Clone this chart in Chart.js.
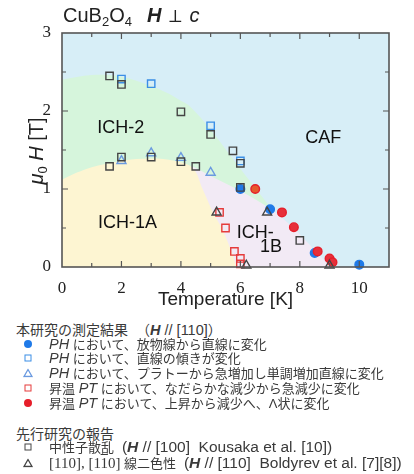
<!DOCTYPE html>
<html lang="ja">
<head>
<meta charset="utf-8">
<title>CuB2O4 H⊥c phase diagram</title>
<script src="https://cdn.jsdelivr.net/npm/chart.js@4.4.1/dist/chart.umd.min.js"></script>
<style>
    html, body { margin: 0; padding: 0; background: #fff; }
    #page { position: relative; width: 414px; height: 474px; overflow: hidden;
            font-family: "Liberation Sans", Arial, sans-serif; color: #222; }
    #plot { position: absolute; left: 0; top: 0; }
    .title { position: absolute; top: 3px; font-size: 20px; line-height: 24px; white-space: nowrap; }
    .title sub { font-size: 13px; line-height: 0; vertical-align: -4px; }
    .ytitle { position: absolute; left: 36px; top: 151px; font-size: 20px; line-height: 24px;
              white-space: nowrap; transform: translate(-50%, -50%) rotate(-90deg); }
    .ytitle sub { font-size: 13px; line-height: 0; vertical-align: -4px; }
    .row { position: absolute; left: 16px; white-space: nowrap; line-height: 16px; height: 16px;
           font-family: "Liberation Sans", "Noto Sans CJK JP", sans-serif; font-size: 13px; color: #3a3a3a; }
    .head { font-size: 14px; }
    .item { left: 49px; }
    .lt { font-size: 14.5px; }
    .ref { font-size: 15.5px; }
    .mk { position: absolute; left: 28px; transform: translate(-50%, -50%); box-sizing: border-box; }
    .dot { width: 8px; height: 8px; border-radius: 50%; }
    .sq { width: 7px; height: 7px; border: 1.5px solid; }
    .serif { font-family: "Liberation Serif", serif; font-size: 15px; }
    .ov { text-decoration: overline; }
</style>
</head>
<body>
<div id="page">
    <canvas id="plot" width="414" height="320"></canvas>

    <div class="title" style="left:63px">CuB<sub>2</sub>O<sub>4</sub></div>
    <div class="title" style="left:147px"><b><i>H</i></b> ⊥ <i>c</i></div>
    <div class="ytitle"><i>μ</i><sub>0</sub> <i>H</i> [T]</div>

    <!-- legend -->
    <div class="row head" style="top:322px">本研究の測定結果</div>
    <div class="row head" style="top:322px;left:136px">（<span class="lt"><b><i>H</i></b> // [110]</span>）</div>

    <span class="mk dot" style="top:344px;background:#1f7ae8"></span>
    <div class="row item" style="top:336px"><i class="lt">PH</i> において、放物線から直線に変化</div>

    <span class="mk sq" style="top:358px;border-color:#3a8ee6"></span>
    <div class="row item" style="top:350px"><i class="lt">PH</i> において、直線の傾きが変化</div>

    <svg class="mk" style="top:373px" width="10" height="9"><polygon points="5,1 9,8 1,8" fill="none" stroke="#6b9ae0" stroke-width="1.3"/></svg>
    <div class="row item" style="top:365px"><i class="lt">PH</i> において、プラトーから急増加し単調増加直線に変化</div>

    <span class="mk sq" style="top:388px;border-color:#e53b3b"></span>
    <div class="row item" style="top:380px">昇温 <i class="lt">PT</i> において、なだらかな減少から急減少に変化</div>

    <span class="mk dot" style="top:403px;background:#e61e2a"></span>
    <div class="row item" style="top:395px">昇温 <i class="lt">PT</i> において、上昇から減少へ、Λ状に変化</div>

    <div class="row head" style="top:426px">先行研究の報告</div>

    <span class="mk sq" style="top:447px;border-color:#444"></span>
    <div class="row item" style="top:439px">中性子散乱 <span class="ref">&nbsp;(<b><i>H</i></b> // [100]&nbsp; Kousaka et al. [10])</span></div>

    <svg class="mk" style="top:463px" width="10" height="9"><polygon points="5,1 9,8 1,8" fill="none" stroke="#444" stroke-width="1.3"/></svg>
    <div class="row item" style="top:455px"><span class="serif">[110], [1<span class="ov">1</span>0]</span> 線二色性 <span class="ref">&nbsp;(<b><i>H</i></b> // [110]&nbsp; Boldyrev et al. [7][8])</span></div>
</div>

<script>
(function() {
    'use strict';

    // phase boundaries, [T (K), mu0H (T)]
    const ich2Edge = [[0, 2.40], [1, 2.46], [2, 2.44], [3, 2.32], [3.6, 2.22], [4.0, 2.13],
                      [4.3, 2.06], [5.0, 1.76], [6.0, 1.26], [7.1, 0.72]];
    const ich1bEdge = [[4.4, 1.29], [7.1, 0.72], [9.05, 0]];
    const ich1aEdge = [[0, 1.12], [0.5, 1.21], [1, 1.28], [2, 1.36], [3, 1.39], [3.8, 1.36],
                       [4.4, 1.27], [4.74, 0.99], [5.08, 0.70], [5.37, 0.50], [5.7, 0.20], [5.87, 0]];

    // this work (H // [110])
    const phParabola = [[6.0, 1.00], [7.0, 0.74], [8.5, 0.18], [10.0, 0.03]];
    const phSlope = [[2.0, 2.41], [3.0, 2.35], [5.0, 1.81], [6.0, 1.36]];
    const phPlateau = [[2.0, 1.36], [3.0, 1.46], [4.0, 1.40], [5.0, 1.21]];
    const ptDecrease = [[5.3, 0.70], [5.5, 0.50], [5.8, 0.20], [6.0, 0.11], [6.0, 0.04]];
    const ptLambda = [[6.5, 1.00], [7.4, 0.70], [7.8, 0.51], [8.6, 0.20], [9.0, 0.11], [9.1, 0.06]];

    // earlier reports
    const neutron = [[1.6, 2.45], [2.0, 2.34], [4.0, 1.99], [5.0, 1.70], [5.75, 1.49], [6.0, 1.33],
                     [1.6, 1.29], [2.0, 1.41], [3.0, 1.41], [4.0, 1.35], [4.5, 1.29], [6.0, 1.02],
                     [8.0, 0.34]];
    const dichroism = [[5.2, 0.70], [6.9, 0.70], [6.2, 0.02], [9.0, 0.02]];

    // phase names
    const regionLabels = [
        { text: 'ICH-2', t: 1.98, h: 1.78 },
        { text: 'ICH-1A', t: 2.2, h: 0.56 },
        { text: 'CAF', t: 8.79, h: 1.65 },
        { text: 'ICH-', t: 6.5, h: 0.43 },
        { text: '1B', t: 7.03, h: 0.25 }
    ];

    const toXY = function(arr) {
        return arr.map(function(p) { return { x: p[0], y: p[1] }; });
    };

    function region(data, color, order) {
        return {
            data: toXY(data),
            showLine: true,
            fill: 'origin',
            backgroundColor: color,
            borderColor: 'transparent',
            borderWidth: 0,
            pointRadius: 0,
            tension: 0.35,
            order: order
        };
    }

    function markers(data, style, stroke, fillColor, radius, order) {
        return {
            data: toXY(data),
            showLine: false,
            pointStyle: style,
            pointRadius: radius,
            pointBorderColor: stroke,
            pointBackgroundColor: fillColor,
            pointBorderWidth: 1.4,
            clip: false,
            order: order
        };
    }

    // CAF background
    const backgroundPlugin = {
        id: 'cafBackground',
        beforeDatasetsDraw: function(chart) {
            const a = chart.chartArea;
            const ctx = chart.ctx;
            ctx.save();
            ctx.fillStyle = '#d7eef7';
            ctx.fillRect(a.left, a.top, a.right - a.left, a.bottom - a.top);
            ctx.restore();
        }
    };

    // phase names, frame and inward ticks on all sides
    const framePlugin = {
        id: 'frame',
        afterDatasetsDraw: function(chart) {
            const ctx = chart.ctx;
            const a = chart.chartArea;
            const x = chart.scales.x;
            const y = chart.scales.y;
            ctx.save();
            ctx.fillStyle = '#111';
            ctx.font = '18px "Liberation Sans", Arial, sans-serif';
            ctx.textAlign = 'center';
            ctx.textBaseline = 'middle';
            regionLabels.forEach(function(l) {
                ctx.fillText(l.text, x.getPixelForValue(l.t), y.getPixelForValue(l.h));
            });

            ctx.strokeStyle = '#555';
            ctx.lineWidth = 1.2;
            ctx.beginPath();
            for (let t = x.min + 1; t < x.max; t++) {
                const px = x.getPixelForValue(t);
                const len = t % 2 ? 4 : 6;
                ctx.moveTo(px, a.bottom); ctx.lineTo(px, a.bottom - len);
                ctx.moveTo(px, a.top); ctx.lineTo(px, a.top + len);
            }
            for (let v = y.min + 0.5; v < y.max; v += 0.5) {
                const py = y.getPixelForValue(v);
                const len = v % 1 ? 4 : 6;
                ctx.moveTo(a.left, py); ctx.lineTo(a.left + len, py);
                ctx.moveTo(a.right, py); ctx.lineTo(a.right - len, py);
            }
            ctx.stroke();
            ctx.lineWidth = 1.6;
            ctx.strokeRect(a.left, a.top, a.right - a.left, a.bottom - a.top);
            ctx.restore();
        }
    };

    function initChart() {
        const canvas = document.getElementById('plot');
        if (!canvas || typeof Chart === 'undefined') {
            console.error('phase diagram: canvas or Chart.js missing');
            return;
        }

        const tickFont = { family: '"Liberation Serif", "Times New Roman", serif', size: 17 };

        new Chart(canvas, {
            type: 'scatter',
            data: {
                datasets: [
                    region(ich2Edge, '#d6f5dc', 30),
                    region(ich1bEdge, '#f2eaf5', 29),
                    region(ich1aEdge, '#fdf5d2', 28),
                    markers(neutron, 'rect', '#444', 'transparent', 5.2, 1),
                    markers(dichroism, 'triangle', '#444', 'transparent', 5.2, 2),
                    markers(ptLambda, 'circle', '#e61e2a',
                        ['#e55a2c', '#e6303a', '#e6303a', '#e6303a', '#e6303a', '#e6303a'], 4.3, 3),
                    markers(ptDecrease, 'rect', '#e53b3b', 'transparent', 5.2, 4),
                    markers(phPlateau, 'triangle', '#6b9ae0', 'transparent', 5.2, 5),
                    markers(phSlope, 'rect', '#3a8ee6', 'transparent', 5.2, 6),
                    markers(phParabola, 'circle', '#1f7ae8', '#1f7ae8', 4.3, 7)
                ]
            },
            options: {
                responsive: false,
                animation: false,
                layout: { padding: { left: 0, right: 25, top: 33, bottom: 0 } },
                plugins: {
                    legend: { display: false },
                    tooltip: { enabled: false }
                },
                scales: {
                    x: {
                        type: 'linear',
                        min: 0,
                        max: 11,
                        afterFit: function(scale) { scale.height = 53; },
                        grid: { display: false },
                        border: { display: false },
                        ticks: { stepSize: 2, includeBounds: false, padding: 3, color: '#222', font: tickFont },
                        title: {
                            display: true,
                            text: 'Temperature [K]',
                            color: '#222',
                            font: { family: '"Liberation Sans", Arial, sans-serif', size: 19 },
                            padding: { top: 0, bottom: 9 }
                        }
                    },
                    y: {
                        min: 0,
                        max: 3,
                        afterFit: function(scale) { scale.width = 62; },
                        grid: { display: false },
                        border: { display: false },
                        ticks: { stepSize: 1, padding: 3, color: '#222', font: tickFont }
                    }
                }
            },
            plugins: [backgroundPlugin, framePlugin]
        });
    }

    if (document.readyState === 'loading') {
        document.addEventListener('DOMContentLoaded', initChart);
    } else {
        initChart();
    }
})();
</script>
</body>
</html>
